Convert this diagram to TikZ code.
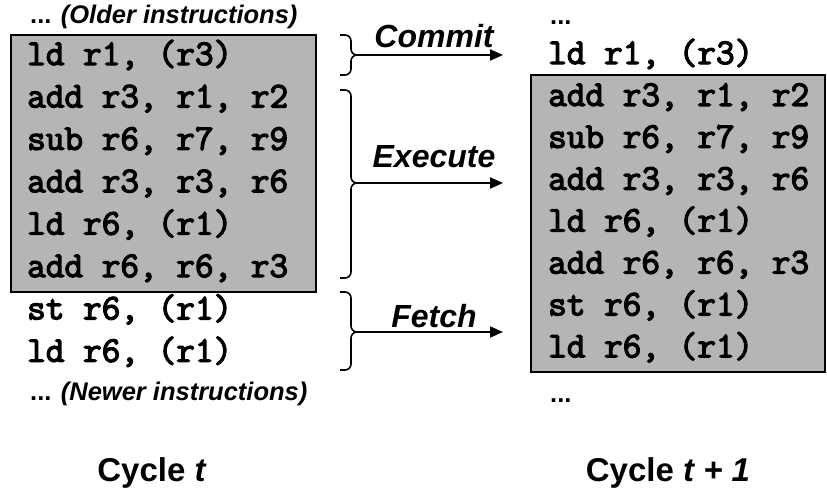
\documentclass[tikz,border=0pt]{standalone}
\usepackage{fontspec}
\setmainfont{Liberation Sans}
\newfontfamily\insnfont{Latin Modern Mono}[FakeBold=3.5]
\usetikzlibrary{arrows.meta,fit,positioning}

\begin{document}
\begin{tikzpicture}[x=1pt, y=-1pt,
  insn/.style={anchor=base west, inner sep=0pt, font=\fontsize{36.2}{40}\selectfont\insnfont},
  window/.style={draw, line width=1.6pt, fill=black!29, inner sep=0pt},
  stage/.style={anchor=base, inner sep=0pt, font=\fontsize{32}{36}\selectfont\bfseries\itshape},
  note/.style={anchor=base west, inner sep=0pt, font=\fontsize{25.5}{30}\selectfont\bfseries},
  cycle/.style={anchor=base, inner sep=0pt, font=\fontsize{33}{38}\selectfont\bfseries},
  bracket/.style={line width=1.6pt, rounded corners=6pt},
  flow/.style={line width=2pt, -{Triangle[length=13pt, width=11pt]}}]
\useasboundingbox (0,0) rectangle (827,501);

% instruction windows
\coordinate (wa-nw) at (11,35);
\coordinate (wa-se) at (316,292);
\coordinate (wb-nw) at (531,75);
\coordinate (wb-se) at (825,372);
\node[window, fit=(wa-nw)(wa-se)] (wa) {};
\node[window, fit=(wb-nw)(wb-se)] (wb) {};

% cycle t
\node[note] (olda) at (30,23) {... \textit{(Older instructions)}};
\node[insn] (a1) at (27,65) {ld r1, (r3)};
\node[insn] (a2) at (27,107.4) {add r3, r1, r2};
\node[insn] (a3) at (27,149.8) {sub r6, r7, r9};
\node[insn] (a4) at (27,192.2) {add r3, r3, r6};
\node[insn] (a5) at (27,234.6) {ld r6, (r1)};
\node[insn] (a6) at (27,277) {add r6, r6, r3};
\node[insn] (a7) at (27,319.4) {st r6, (r1)};
\node[insn] (a8) at (27,361.8) {ld r6, (r1)};
\node[note] (newa) at (30,400) {... \textit{(Newer instructions)}};

% cycle t + 1
\node[note] (oldb) at (550,24) {...};
\node[insn] (b1) at (548,64) {ld r1, (r3)};
\node[insn] (b2) at (548,105.9) {add r3, r1, r2};
\node[insn] (b3) at (548,147.8) {sub r6, r7, r9};
\node[insn] (b4) at (548,189.7) {add r3, r3, r6};
\node[insn] (b5) at (548,231.6) {ld r6, (r1)};
\node[insn] (b6) at (548,273.5) {add r6, r6, r3};
\node[insn] (b7) at (548,315.4) {st r6, (r1)};
\node[insn] (b8) at (548,357.3) {ld r6, (r1)};
\node[note] (newb) at (550,402) {...};

% stages
\coordinate (commit-tip) at (358,55);
\coordinate (commit-end) at (503,55);
\coordinate (exec-tip) at (358,183);
\coordinate (exec-end) at (503,183);
\coordinate (fetch-tip) at (358,332);
\coordinate (fetch-end) at (503,332);

\draw[bracket] (340,35) -- (351,35) -- (351,55) -- (commit-tip);
\draw[bracket] (340,75) -- (351,75) -- (351,55) -- (commit-tip);
\draw[bracket] (340,90) -- (351,90) -- (351,183) -- (exec-tip);
\draw[bracket] (340,278) -- (351,278) -- (351,183) -- (exec-tip);
\draw[bracket] (340,292) -- (351,292) -- (351,332) -- (fetch-tip);
\draw[bracket] (340,370) -- (351,370) -- (351,332) -- (fetch-tip);

\draw[flow] (commit-tip) -- (commit-end);
\draw[flow] (exec-tip) -- (exec-end);
\draw[flow] (fetch-tip) -- (fetch-end);

\node[stage] (commit) at (434,47) {Commit};
\node[stage] (exec) at (434,167) {Execute};
\node[stage] (fetch) at (434,327) {Fetch};

\node[cycle] (ct) at (152,481) {Cycle \textit{t}};
\node[cycle] (ct1) at (668,481) {Cycle \textit{t + 1}};
\end{tikzpicture}
\end{document}
